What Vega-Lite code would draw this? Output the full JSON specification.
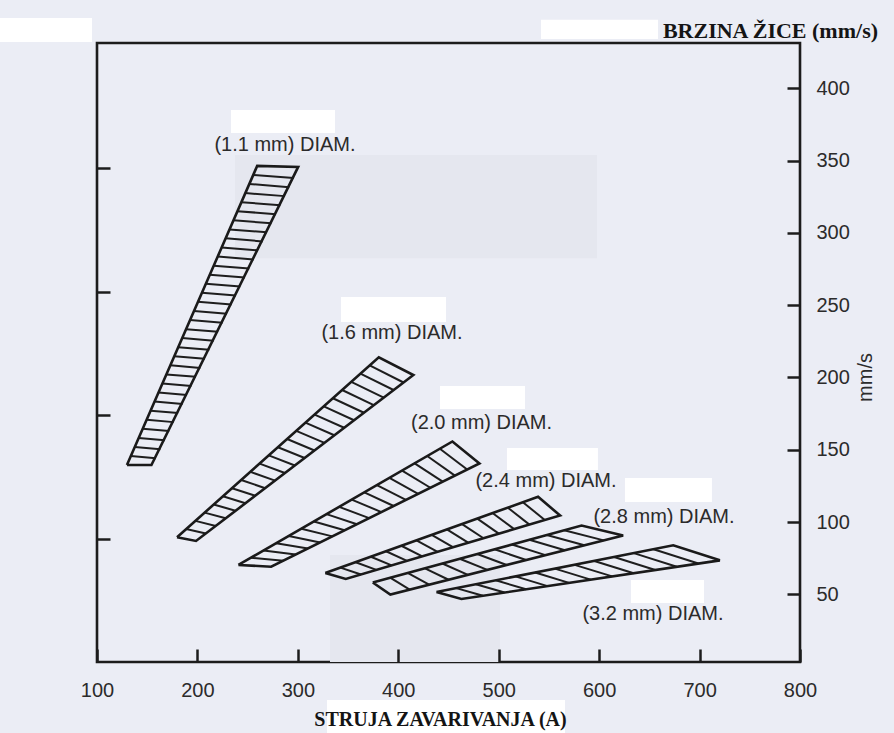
{
  "$schema": "https://vega.github.io/schema/vega-lite/v6.json",
  "width": 703,
  "height": 619,
  "autosize": {"type": "none"},
  "padding": {"left": 97, "top": 43, "right": 94, "bottom": 71},
  "background": "#ebedf5",
  "config": {
    "view": {"stroke": "#1c1c1c", "strokeWidth": 2.6},
    "axis": {"domain": false, "grid": false, "tickColor": "#1c1c1c", "tickWidth": 2.5, "labelFont": "Liberation Sans", "labelFontSize": 20, "labelColor": "#2b2b2b", "labelFlush": false}
  },
  "datasets": {
    "outline": [
      {"band": "1.1", "i": 0, "x": 129.8, "y": 139.4}, {"band": "1.1", "i": 1, "x": 259.5, "y": 346.3}, {"band": "1.1", "i": 2, "x": 300.3, "y": 345.6}, {"band": "1.1", "i": 3, "x": 154.2, "y": 139.4}, {"band": "1.1", "i": 4, "x": 129.8, "y": 139.4},
      {"band": "1.6", "i": 0, "x": 179.7, "y": 89.5}, {"band": "1.6", "i": 1, "x": 380.6, "y": 213.9}, {"band": "1.6", "i": 2, "x": 415.0, "y": 201.7}, {"band": "1.6", "i": 3, "x": 198.6, "y": 86.9}, {"band": "1.6", "i": 4, "x": 179.7, "y": 89.5},
      {"band": "2.0", "i": 0, "x": 240.8, "y": 70.3}, {"band": "2.0", "i": 1, "x": 453.9, "y": 155.7}, {"band": "2.0", "i": 2, "x": 480.8, "y": 140.5}, {"band": "2.0", "i": 3, "x": 273.4, "y": 69.1}, {"band": "2.0", "i": 4, "x": 240.8, "y": 70.3},
      {"band": "2.4", "i": 0, "x": 327.3, "y": 64.7}, {"band": "2.4", "i": 1, "x": 539.2, "y": 117.5}, {"band": "2.4", "i": 2, "x": 561.1, "y": 104.5}, {"band": "2.4", "i": 3, "x": 347.7, "y": 60.6}, {"band": "2.4", "i": 4, "x": 327.3, "y": 64.7},
      {"band": "2.8", "i": 0, "x": 374.6, "y": 58.2}, {"band": "2.8", "i": 1, "x": 582.5, "y": 97.6}, {"band": "2.8", "i": 2, "x": 623.9, "y": 90.7}, {"band": "2.8", "i": 3, "x": 392.1, "y": 49.9}, {"band": "2.8", "i": 4, "x": 374.6, "y": 58.2},
      {"band": "3.2", "i": 0, "x": 438.0, "y": 51.6}, {"band": "3.2", "i": 1, "x": 673.8, "y": 83.9}, {"band": "3.2", "i": 2, "x": 720.2, "y": 73.5}, {"band": "3.2", "i": 3, "x": 462.9, "y": 46.8}, {"band": "3.2", "i": 4, "x": 438.0, "y": 51.6}
    ],
    "hatch": [
      {"x1": 133.7, "y1": 145.7, "x2": 158.6, "y2": 144.1}, {"x1": 137.7, "y1": 151.9, "x2": 163.1, "y2": 150.4}, {"x1": 141.6, "y1": 158.2, "x2": 167.5, "y2": 156.6}, {"x1": 145.5, "y1": 164.5, "x2": 171.9, "y2": 162.9},
      {"x1": 149.5, "y1": 170.8, "x2": 176.3, "y2": 169.1}, {"x1": 153.4, "y1": 177.0, "x2": 180.8, "y2": 175.4}, {"x1": 157.3, "y1": 183.3, "x2": 185.2, "y2": 181.6}, {"x1": 161.2, "y1": 189.6, "x2": 189.6, "y2": 187.9},
      {"x1": 165.2, "y1": 195.8, "x2": 194.0, "y2": 194.1}, {"x1": 169.1, "y1": 202.1, "x2": 198.5, "y2": 200.4}, {"x1": 173.0, "y1": 208.4, "x2": 202.9, "y2": 206.6}, {"x1": 177.0, "y1": 214.6, "x2": 207.3, "y2": 212.9},
      {"x1": 180.9, "y1": 220.9, "x2": 211.8, "y2": 219.1}, {"x1": 184.8, "y1": 227.2, "x2": 216.2, "y2": 225.4}, {"x1": 188.8, "y1": 233.4, "x2": 220.6, "y2": 231.6}, {"x1": 192.7, "y1": 239.7, "x2": 225.0, "y2": 237.9},
      {"x1": 196.6, "y1": 246.0, "x2": 229.5, "y2": 244.1}, {"x1": 200.5, "y1": 252.3, "x2": 233.9, "y2": 250.4}, {"x1": 204.5, "y1": 258.5, "x2": 238.3, "y2": 256.6}, {"x1": 208.4, "y1": 264.8, "x2": 242.7, "y2": 262.9},
      {"x1": 212.3, "y1": 271.1, "x2": 247.2, "y2": 269.1}, {"x1": 216.3, "y1": 277.3, "x2": 251.6, "y2": 275.4}, {"x1": 220.2, "y1": 283.6, "x2": 256.0, "y2": 281.6}, {"x1": 224.1, "y1": 289.9, "x2": 260.4, "y2": 287.9},
      {"x1": 228.1, "y1": 296.2, "x2": 264.9, "y2": 294.1}, {"x1": 232.0, "y1": 302.4, "x2": 269.3, "y2": 300.4}, {"x1": 235.9, "y1": 308.7, "x2": 273.7, "y2": 306.6}, {"x1": 239.8, "y1": 315.0, "x2": 278.2, "y2": 312.9},
      {"x1": 243.8, "y1": 321.2, "x2": 282.6, "y2": 319.1}, {"x1": 247.7, "y1": 327.5, "x2": 287.0, "y2": 325.4}, {"x1": 251.6, "y1": 333.8, "x2": 291.4, "y2": 331.6}, {"x1": 255.6, "y1": 340.0, "x2": 295.9, "y2": 337.9},
      {"x1": 188.8, "y1": 95.2, "x2": 208.4, "y2": 92.1}, {"x1": 198.0, "y1": 100.8, "x2": 218.3, "y2": 97.3}, {"x1": 207.1, "y1": 106.5, "x2": 228.1, "y2": 102.6}, {"x1": 216.2, "y1": 112.1, "x2": 237.9, "y2": 107.8},
      {"x1": 225.4, "y1": 117.8, "x2": 247.8, "y2": 113.0}, {"x1": 234.5, "y1": 123.4, "x2": 257.6, "y2": 118.2}, {"x1": 243.6, "y1": 129.1, "x2": 267.5, "y2": 123.4}, {"x1": 252.8, "y1": 134.7, "x2": 277.3, "y2": 128.6},
      {"x1": 261.9, "y1": 140.4, "x2": 287.1, "y2": 133.9}, {"x1": 271.0, "y1": 146.1, "x2": 297.0, "y2": 139.1}, {"x1": 280.2, "y1": 151.7, "x2": 306.8, "y2": 144.3}, {"x1": 289.3, "y1": 157.4, "x2": 316.6, "y2": 149.5},
      {"x1": 298.4, "y1": 163.0, "x2": 326.5, "y2": 154.7}, {"x1": 307.5, "y1": 168.7, "x2": 336.3, "y2": 160.0}, {"x1": 316.7, "y1": 174.3, "x2": 346.1, "y2": 165.2}, {"x1": 325.8, "y1": 180.0, "x2": 356.0, "y2": 170.4},
      {"x1": 334.9, "y1": 185.6, "x2": 365.8, "y2": 175.6}, {"x1": 344.1, "y1": 191.3, "x2": 375.6, "y2": 180.8}, {"x1": 353.2, "y1": 196.9, "x2": 385.5, "y2": 186.0}, {"x1": 362.3, "y1": 202.6, "x2": 395.3, "y2": 191.3},
      {"x1": 371.5, "y1": 208.3, "x2": 405.2, "y2": 196.5},
      {"x1": 253.3, "y1": 75.3, "x2": 285.6, "y2": 73.3}, {"x1": 265.9, "y1": 80.3, "x2": 297.8, "y2": 77.5}, {"x1": 278.4, "y1": 85.4, "x2": 310.0, "y2": 81.7}, {"x1": 290.9, "y1": 90.4, "x2": 322.2, "y2": 85.9},
      {"x1": 303.5, "y1": 95.4, "x2": 334.4, "y2": 90.1}, {"x1": 316.0, "y1": 100.4, "x2": 346.6, "y2": 94.3}, {"x1": 328.5, "y1": 105.5, "x2": 358.8, "y2": 98.5}, {"x1": 341.1, "y1": 110.5, "x2": 371.0, "y2": 102.7},
      {"x1": 353.6, "y1": 115.5, "x2": 383.2, "y2": 106.9}, {"x1": 366.2, "y1": 120.5, "x2": 395.4, "y2": 111.1}, {"x1": 378.7, "y1": 125.6, "x2": 407.6, "y2": 115.3}, {"x1": 391.2, "y1": 130.6, "x2": 419.8, "y2": 119.5},
      {"x1": 403.8, "y1": 135.6, "x2": 432.0, "y2": 123.7}, {"x1": 416.3, "y1": 140.6, "x2": 444.2, "y2": 127.9}, {"x1": 428.8, "y1": 145.7, "x2": 456.4, "y2": 132.1}, {"x1": 441.4, "y1": 150.7, "x2": 468.6, "y2": 136.3},
      {"x1": 342.4, "y1": 68.5, "x2": 362.9, "y2": 63.7}, {"x1": 357.6, "y1": 72.2, "x2": 378.2, "y2": 66.9}, {"x1": 372.7, "y1": 76.0, "x2": 393.4, "y2": 70.0}, {"x1": 387.8, "y1": 79.8, "x2": 408.7, "y2": 73.1},
      {"x1": 403.0, "y1": 83.6, "x2": 423.9, "y2": 76.3}, {"x1": 418.1, "y1": 87.3, "x2": 439.2, "y2": 79.4}, {"x1": 433.3, "y1": 91.1, "x2": 454.4, "y2": 82.6}, {"x1": 448.4, "y1": 94.9, "x2": 469.6, "y2": 85.7},
      {"x1": 463.5, "y1": 98.6, "x2": 484.9, "y2": 88.8}, {"x1": 478.7, "y1": 102.4, "x2": 500.1, "y2": 92.0}, {"x1": 493.8, "y1": 106.2, "x2": 515.4, "y2": 95.1}, {"x1": 508.9, "y1": 110.0, "x2": 530.6, "y2": 98.2},
      {"x1": 524.1, "y1": 113.7, "x2": 545.9, "y2": 101.4},
      {"x1": 391.9, "y1": 61.5, "x2": 411.4, "y2": 53.3}, {"x1": 409.3, "y1": 64.8, "x2": 430.7, "y2": 56.7}, {"x1": 426.6, "y1": 68.0, "x2": 450.1, "y2": 60.1}, {"x1": 443.9, "y1": 71.3, "x2": 469.4, "y2": 63.5},
      {"x1": 461.2, "y1": 74.6, "x2": 488.7, "y2": 66.9}, {"x1": 478.6, "y1": 77.9, "x2": 508.0, "y2": 70.3}, {"x1": 495.9, "y1": 81.2, "x2": 527.3, "y2": 73.7}, {"x1": 513.2, "y1": 84.5, "x2": 546.6, "y2": 77.1},
      {"x1": 530.5, "y1": 87.7, "x2": 566.0, "y2": 80.5}, {"x1": 547.9, "y1": 91.0, "x2": 585.3, "y2": 83.9}, {"x1": 565.2, "y1": 94.3, "x2": 604.6, "y2": 87.3},
      {"x1": 457.7, "y1": 54.3, "x2": 484.3, "y2": 49.0}, {"x1": 477.3, "y1": 57.0, "x2": 505.8, "y2": 51.3}, {"x1": 497.0, "y1": 59.7, "x2": 527.2, "y2": 53.5}, {"x1": 516.6, "y1": 62.4, "x2": 548.7, "y2": 55.7},
      {"x1": 536.3, "y1": 65.1, "x2": 570.1, "y2": 57.9}, {"x1": 555.9, "y1": 67.8, "x2": 591.6, "y2": 60.2}, {"x1": 575.6, "y1": 70.4, "x2": 613.0, "y2": 62.4}, {"x1": 595.2, "y1": 73.1, "x2": 634.4, "y2": 64.6},
      {"x1": 614.9, "y1": 75.8, "x2": 655.9, "y2": 66.8}, {"x1": 634.5, "y1": 78.5, "x2": 677.3, "y2": 69.1}, {"x1": 654.2, "y1": 81.2, "x2": 698.8, "y2": 71.3}
    ],
    "labels": [
      {"label": "(1.1 mm) DIAM.", "x": 287.2, "y": 360.8},
      {"label": "(1.6 mm) DIAM.", "x": 393.7, "y": 230.8},
      {"label": "(2.0 mm) DIAM.", "x": 482.9, "y": 168.5},
      {"label": "(2.4 mm) DIAM.", "x": 547.1, "y": 128.4},
      {"label": "(2.8 mm) DIAM.", "x": 664.6, "y": 103.5},
      {"label": "(3.2 mm) DIAM.", "x": 653.6, "y": 36.4}
    ],
    "heading": [
      {"label": "BRZINA ŽICE (mm/s)", "x": 877.7, "y": 434.8}
    ],
    "shades": [
      {"x1": 237.4, "x2": 597.9, "y1": 282.5, "y2": 353.8},
      {"x1": 332.0, "x2": 501.3, "y1": 3.2, "y2": 77.2}
    ],
    "boxes": [
      {"x1": 233.4, "x2": 337.0, "y1": 369.1, "y2": 385.0},
      {"x1": 343.0, "x2": 447.5, "y1": 238.4, "y2": 255.7},
      {"x1": 441.5, "x2": 526.2, "y1": 178.2, "y2": 194.1},
      {"x1": 508.2, "x2": 598.8, "y1": 136.0, "y2": 151.2},
      {"x1": 625.7, "x2": 712.3, "y1": 113.9, "y2": 130.5},
      {"x1": 631.7, "x2": 704.4, "y1": 44.0, "y2": 59.9},
      {"x1": 542.1, "x2": 658.6, "y1": 434.1, "y2": 447.3},
      {"x1": 3.4, "x2": 95.0, "y1": 432.0, "y2": 448.6},
      {"x1": 329.0, "x2": 566.0, "y1": -45.9, "y2": -23.1}
    ]
  },
  "resolve": {"axis": {"x": "independent", "y": "independent"}},
  "layer": [
    {
      "data": {"name": "shades"},
      "mark": {"type": "rect", "color": "#e5e7ef"},
      "encoding": {
        "x": {"field": "x1", "type": "quantitative", "scale": {"domain": [100, 800], "nice": false, "zero": false}, "axis": null},
        "x2": {"field": "x2"},
        "y": {"field": "y1", "type": "quantitative", "scale": {"domain": [3.2, 431.3], "nice": false, "zero": false}, "axis": null},
        "y2": {"field": "y2"}
      }
    },
    {
      "data": {"name": "boxes"},
      "mark": {"type": "rect", "color": "#ffffff"},
      "encoding": {
        "x": {"field": "x1", "type": "quantitative", "scale": {"domain": [100, 800], "nice": false, "zero": false}, "axis": null},
        "x2": {"field": "x2"},
        "y": {"field": "y1", "type": "quantitative", "scale": {"domain": [3.2, 431.3], "nice": false, "zero": false}, "axis": null},
        "y2": {"field": "y2"}
      }
    },
    {
      "data": {"name": "hatch"},
      "mark": {"type": "rule", "color": "#1e1e1e", "strokeWidth": 2.0},
      "encoding": {
        "x": {"field": "x1", "type": "quantitative", "scale": {"domain": [100, 800], "nice": false, "zero": false}, "axis": null},
        "x2": {"field": "x2"},
        "y": {"field": "y1", "type": "quantitative", "scale": {"domain": [3.2, 431.3], "nice": false, "zero": false},
              "axis": {"orient": "left", "values": [88.3, 174, 259.1, 344.9], "labels": false, "tickSize": -13, "title": null}},
        "y2": {"field": "y2"}
      }
    },
    {
      "data": {"name": "outline"},
      "mark": {"type": "line", "color": "#1a1a1a", "strokeWidth": 2.6, "strokeJoin": "miter"},
      "encoding": {
        "x": {"field": "x", "type": "quantitative", "scale": {"domain": [100, 800], "nice": false, "zero": false},
              "axis": {"orient": "bottom", "zindex": 1, "values": [100, 200, 300, 400, 500, 600, 700, 800], "tickSize": -13, "labelPadding": 31,
                       "title": "STRUJA ZAVARIVANJA (A)", "titleFont": "Liberation Serif", "titleFontSize": 20, "titleFontWeight": "bold", "titleColor": "#141414",
                       "titleX": 343, "titleY": 63, "titleBaseline": "alphabetic", "titleAlign": "center"}},
        "y": {"field": "y", "type": "quantitative", "scale": {"domain": [3.2, 431.3], "nice": false, "zero": false},
              "axis": {"orient": "right", "values": [50, 100, 150, 200, 250, 300, 350, 400], "tickSize": -13, "labelPadding": 29,
                       "title": "mm/s", "titleFont": "Liberation Sans", "titleFontSize": 20, "titleFontWeight": "normal", "titleColor": "#2b2b2b",
                       "titleAngle": 270, "titleX": 65, "titleY": 334, "titleAlign": "center", "titleBaseline": "middle"}},
        "detail": {"field": "band"},
        "order": {"field": "i", "type": "quantitative"}
      }
    },
    {
      "data": {"name": "labels"},
      "mark": {"type": "text", "font": "Liberation Sans", "fontSize": 20, "color": "#2b2b2b", "align": "center", "baseline": "middle"},
      "encoding": {
        "x": {"field": "x", "type": "quantitative", "scale": {"domain": [100, 800], "nice": false, "zero": false}, "axis": null},
        "y": {"field": "y", "type": "quantitative", "scale": {"domain": [3.2, 431.3], "nice": false, "zero": false}, "axis": null},
        "text": {"field": "label"}
      }
    },
    {
      "data": {"name": "heading"},
      "mark": {"type": "text", "font": "Liberation Serif", "fontSize": 22, "fontWeight": "bold", "color": "#151515", "align": "right", "baseline": "alphabetic"},
      "encoding": {
        "x": {"field": "x", "type": "quantitative", "scale": {"domain": [100, 800], "nice": false, "zero": false}, "axis": null},
        "y": {"field": "y", "type": "quantitative", "scale": {"domain": [3.2, 431.3], "nice": false, "zero": false}, "axis": null},
        "text": {"field": "label"}
      }
    }
  ]
}
